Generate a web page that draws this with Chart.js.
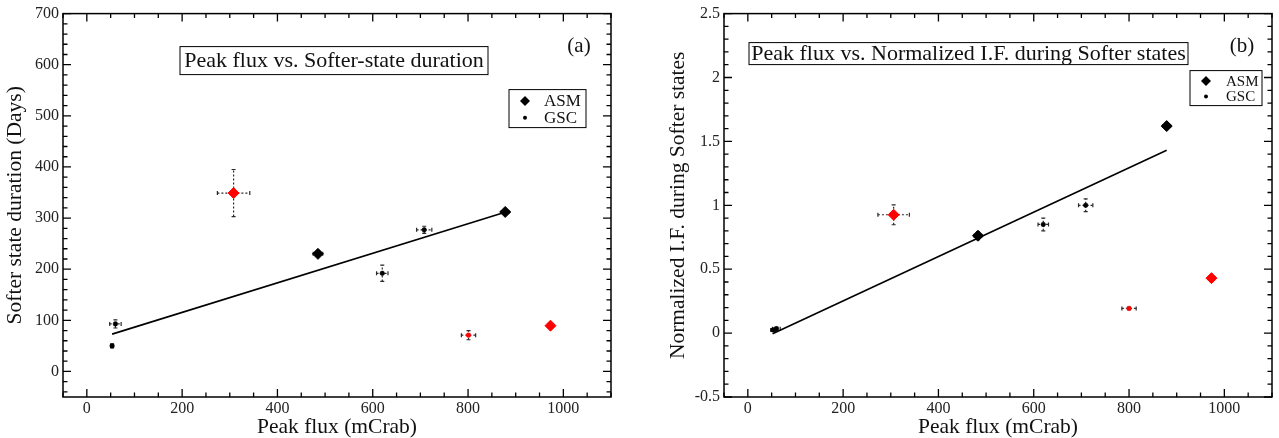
<!DOCTYPE html>
<html>
<head>
<meta charset="utf-8">
<script src="https://cdn.jsdelivr.net/npm/chart.js@4.4.1/dist/chart.umd.min.js"></script>
<style>
  html, body { margin: 0; padding: 0; background: #fff; }
  .panel { position: absolute; top: 0; height: 438px; }
  #panelA { left: 0; width: 640px; }
  #panelB { left: 640px; width: 639px; }
</style>
</head>
<body>
<div class="panel" id="panelA"><canvas id="chartA"></canvas></div>
<div class="panel" id="panelB"><canvas id="chartB"></canvas></div>
<script>
// shared x axis (peak flux, mCrab)
const fluxTicks = [0, 200, 400, 600, 800, 1000];

// panel (a): softer-state duration (days)
const durTicks = [0, 100, 200, 300, 400, 500, 600, 700];
const asmFluxA = [485, 878];
const asmDurA = [230, 312];
const asmFluxErrA = [10, 8];
const asmDurErrA = [5, 4];
const asmRedFluxA = [308, 973];
const asmRedDurA = [349, 89.5];
const asmRedFluxErrA = [34, 6];
const asmRedDurErrA = [46, 4];
const gscFluxA = [53, 60, 620, 708];
const gscDurA = [50, 93, 192, 277];
const gscFluxErrA = [3, 12, 12, 16];
const gscDurErrA = [4, 8, 16, 7];
const gscRedFluxA = [801];
const gscRedDurA = [71];
const gscRedFluxErrA = [15];
const gscRedDurErrA = [9];
const fitFluxA = [53, 876];
const fitDurA = [73, 311];

// panel (b): normalized I.F. during softer states
const ifTicks = [-0.5, 0, 0.5, 1, 1.5, 2, 2.5];
const ifTickLabels = ["-0.5", "0", "0.5", "1", "1.5", "2", "2.5"];
const asmFluxB = [483, 879];
const asmIfB = [0.762, 1.62];
const asmFluxErrB = [8, 8];
const asmIfErrB = [0.03, 0.02];
const asmRedFluxB = [306, 973];
const asmRedIfB = [0.926, 0.43];
const asmRedFluxErrB = [33, 6];
const asmRedIfErrB = [0.078, 0.02];
const gscFluxB = [53, 60, 620, 709];
const gscIfB = [0.025, 0.035, 0.85, 1.0];
const gscFluxErrB = [5, 8, 11, 15];
const gscIfErrB = [0.01, 0.01, 0.05, 0.05];
const gscRedFluxB = [800];
const gscRedIfB = [0.193];
const gscRedFluxErrB = [15];
const gscRedIfErrB = [0.01];
const fitFluxB = [52, 879];
const fitIfB = [-0.005, 1.43];

const serif = "'Liberation Serif', 'DejaVu Serif', serif";

function pairs(xs, ys) {
  return xs.map((x, i) => ({ x: x, y: ys[i] }));
}

function diamondSet(label, xs, ys, ex, ey, color) {
  return {
    label: label, data: pairs(xs, ys), errX: ex, errY: ey,
    pointStyle: "rectRot", pointRadius: 5.5,
    backgroundColor: color, borderColor: color, borderWidth: 1
  };
}

function dotSet(label, xs, ys, ex, ey, color) {
  return {
    label: label, data: pairs(xs, ys), errX: ex, errY: ey,
    pointStyle: "circle", pointRadius: 2.3,
    backgroundColor: color, borderColor: color, borderWidth: 0.5
  };
}

// dashed error bars with small caps, drawn under the markers
const errorBars = {
  id: "errorBars",
  beforeDatasetsDraw(chart) {
    const { ctx, scales: { x, y } } = chart;
    ctx.save();
    ctx.strokeStyle = "#2a2a2a";
    ctx.lineWidth = 1.2;
    chart.data.datasets.forEach((ds) => {
      if (!ds.errX) return;
      ds.data.forEach((p, i) => {
        const cx = x.getPixelForValue(p.x);
        const cy = y.getPixelForValue(p.y);
        const x0 = x.getPixelForValue(p.x - ds.errX[i]);
        const x1 = x.getPixelForValue(p.x + ds.errX[i]);
        const y0 = y.getPixelForValue(p.y - ds.errY[i]);
        const y1 = y.getPixelForValue(p.y + ds.errY[i]);
        ctx.setLineDash([2, 2]);
        ctx.beginPath();
        ctx.moveTo(x0, cy); ctx.lineTo(x1, cy);
        ctx.moveTo(cx, y0); ctx.lineTo(cx, y1);
        ctx.stroke();
        ctx.setLineDash([]);
        ctx.beginPath();
        ctx.moveTo(x0, cy - 2); ctx.lineTo(x0, cy + 2);
        ctx.moveTo(x1, cy - 2); ctx.lineTo(x1, cy + 2);
        ctx.moveTo(cx - 2, y0); ctx.lineTo(cx + 2, y0);
        ctx.moveTo(cx - 2, y1); ctx.lineTo(cx + 2, y1);
        ctx.stroke();
      });
    });
    ctx.restore();
  }
};

function tickMarks(ctx, scale, area, minor, major, horizontal) {
  const n0 = Math.ceil(scale.min / minor - 1e-9);
  const n1 = Math.floor(scale.max / minor + 1e-9);
  for (let n = n0; n <= n1; n++) {
    const v = n * minor;
    const isMajor = Math.abs(v / major - Math.round(v / major)) < 1e-6;
    const len = isMajor ? 8 : 4.5;
    const p = scale.getPixelForValue(v);
    ctx.beginPath();
    if (horizontal) {
      ctx.moveTo(p, area.bottom); ctx.lineTo(p, area.bottom - len);
      ctx.moveTo(p, area.top); ctx.lineTo(p, area.top + len);
    } else {
      ctx.moveTo(area.left, p); ctx.lineTo(area.left + len, p);
      ctx.moveTo(area.right, p); ctx.lineTo(area.right - len, p);
    }
    ctx.stroke();
  }
}

// frame with inward ticks, boxed title, panel letter and legend
const decorations = {
  id: "decorations",
  afterDraw(chart, args, opts) {
    const { ctx, chartArea: a, scales: { x, y } } = chart;
    ctx.save();
    ctx.strokeStyle = "#000";
    ctx.lineWidth = 1.5;
    ctx.strokeRect(a.left, a.top, a.right - a.left, a.bottom - a.top);
    ctx.lineWidth = 1.3;
    tickMarks(ctx, x, a, 50, 200, true);
    tickMarks(ctx, y, a, opts.yMinor, opts.yMajor, false);

    // title box
    ctx.fillStyle = "#111";
    ctx.font = "22px " + serif;
    ctx.textBaseline = "middle";
    ctx.textAlign = "center";
    const tb = opts.titleBox;
    ctx.lineWidth = 1;
    ctx.strokeRect(a.left + tb.x, a.top + tb.y, tb.w, tb.h);
    ctx.fillText(opts.title, a.left + tb.x + tb.w / 2, a.top + tb.y + tb.h / 2 + 1);

    // panel letter
    ctx.font = "21px " + serif;
    ctx.fillText(opts.letter, a.right - opts.letterDx, a.top + 33);

    // legend
    const lg = opts.legend;
    ctx.strokeRect(a.right - lg.dx, a.top + lg.y, lg.w, lg.h);
    ctx.font = lg.font + "px " + serif;
    ctx.textAlign = "left";
    const mx = a.right - lg.dx + lg.mark;
    const r1 = a.top + lg.y + lg.h * 0.3;
    const r2 = a.top + lg.y + lg.h * 0.74;
    ctx.fillStyle = "#000";
    ctx.beginPath();
    ctx.moveTo(mx, r1 - 5); ctx.lineTo(mx + 5, r1); ctx.lineTo(mx, r1 + 5); ctx.lineTo(mx - 5, r1);
    ctx.closePath();
    ctx.fill();
    ctx.beginPath();
    ctx.arc(mx, r2, 2, 0, Math.PI * 2);
    ctx.fill();
    ctx.fillStyle = "#111";
    ctx.fillText("ASM", mx + lg.text, r1 + 1);
    ctx.fillText("GSC", mx + lg.text, r2 + 1);
    ctx.restore();
  }
};

function buildChart(id, p) {
  return new Chart(document.getElementById(id), {
    type: "scatter",
    data: {
      datasets: [
        dotSet("GSC", p.gsc[0], p.gsc[1], p.gsc[2], p.gsc[3], "#000"),
        dotSet("GSC red", p.gscRed[0], p.gscRed[1], p.gscRed[2], p.gscRed[3], "#ff0000"),
        diamondSet("ASM", p.asm[0], p.asm[1], p.asm[2], p.asm[3], "#000"),
        diamondSet("ASM red", p.asmRed[0], p.asmRed[1], p.asmRed[2], p.asmRed[3], "#ff0000"),
        {
          label: "fit", data: pairs(p.fit[0], p.fit[1]), showLine: true,
          pointRadius: 0, borderColor: "#000", borderWidth: 1.6, fill: false
        }
      ]
    },
    options: {
      responsive: true,
      maintainAspectRatio: false,
      animation: false,
      layout: { padding: { top: 13, right: p.padRight, left: 0, bottom: 0 } },
      plugins: {
        legend: { display: false },
        tooltip: { enabled: false },
        decorations: p.deco
      },
      scales: {
        x: {
          type: "linear", min: -50, max: 1100,
          grid: { display: false, drawTicks: false },
          border: { display: false },
          afterBuildTicks(scale) { scale.ticks = fluxTicks.map((v) => ({ value: v })); },
          afterFit(scale) { scale.height = 41; },
          ticks: {
            color: "#222", padding: 2, maxRotation: 0, autoSkip: false,
            font: { family: serif, size: 16 },
            callback(value) { return String(value); }
          },
          title: {
            display: true, text: "Peak flux (mCrab)", color: "#111", padding: 0,
            font: { family: serif, size: 21.5, lineHeight: 1 }
          }
        },
        y: {
          type: "linear", min: p.yMin, max: p.yMax,
          grid: { display: false, drawTicks: false },
          border: { display: false },
          afterBuildTicks(scale) { scale.ticks = p.yTicks.map((v) => ({ value: v })); },
          afterFit(scale) { scale.width = p.yWidth; },
          ticks: {
            color: "#222", padding: 4, autoSkip: false,
            font: { family: serif, size: 16 },
            callback(value) { return p.yLabel(value); }
          },
          title: {
            display: true, text: p.yTitle, color: "#111",
            padding: { top: p.yTitlePad, bottom: 0 },
            font: { family: serif, size: 21.5 }
          }
        }
      }
    },
    plugins: [errorBars, decorations]
  });
}

buildChart("chartA", {
  asm: [asmFluxA, asmDurA, asmFluxErrA, asmDurErrA],
  asmRed: [asmRedFluxA, asmRedDurA, asmRedFluxErrA, asmRedDurErrA],
  gsc: [gscFluxA, gscDurA, gscFluxErrA, gscDurErrA],
  gscRed: [gscRedFluxA, gscRedDurA, gscRedFluxErrA, gscRedDurErrA],
  fit: [fitFluxA, fitDurA],
  yMin: -50, yMax: 700, yTicks: durTicks,
  yLabel: (v) => String(v),
  yTitle: "Softer state duration (Days)",
  yWidth: 63, yTitlePad: 2, padRight: 29,
  deco: {
    yMinor: 20, yMajor: 100,
    title: "Peak flux vs. Softer-state duration",
    titleBox: { x: 117, y: 33, w: 308, h: 28 },
    letter: "(a)", letterDx: 32,
    legend: { dx: 102, y: 76, w: 77, h: 38, mark: 16, text: 19, font: 17 }
  }
});

buildChart("chartB", {
  asm: [asmFluxB, asmIfB, asmFluxErrB, asmIfErrB],
  asmRed: [asmRedFluxB, asmRedIfB, asmRedFluxErrB, asmRedIfErrB],
  gsc: [gscFluxB, gscIfB, gscFluxErrB, gscIfErrB],
  gscRed: [gscRedFluxB, gscRedIfB, gscRedFluxErrB, gscRedIfErrB],
  fit: [fitFluxB, fitIfB],
  yMin: -0.5, yMax: 2.5, yTicks: ifTicks,
  yLabel: (v) => ifTickLabels[ifTicks.indexOf(v)],
  yTitle: "Normalized I.F. during Softer states",
  yWidth: 84, yTitlePad: 25, padRight: 7,
  deco: {
    yMinor: 0.1, yMajor: 0.5,
    title: "Peak flux vs. Normalized I.F. during Softer states",
    titleBox: { x: 25, y: 29, w: 439, h: 22 },
    letter: "(b)", letterDx: 30,
    legend: { dx: 82, y: 57, w: 72, h: 35, mark: 16, text: 20, font: 15 }
  }
});
</script>
</body>
</html>
